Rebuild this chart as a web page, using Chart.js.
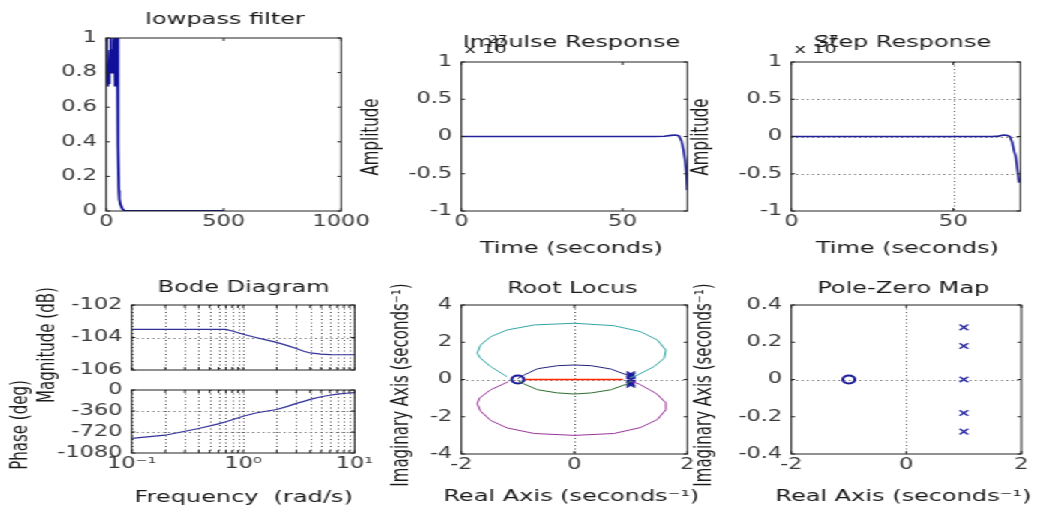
<!DOCTYPE html>
<html>
<head>
<meta charset="utf-8">
<script src="https://cdn.jsdelivr.net/npm/chart.js@4.4.1/dist/chart.umd.min.js"></script>
<style>
  html, body { margin: 0; padding: 0; background: #fff; overflow: hidden; }
  /* the figure is laid out narrow and stretched sideways, like the exported bitmap */
  #fig { position: absolute; left: 0; top: 0; width: 694px; height: 513px;
         transform: scaleX(1.5); transform-origin: 0 0; }
  #fig canvas { position: absolute; }
</style>
</head>
<body>
<div id="fig"></div>
<script>
// ---- data ----
// subplot 1: lowpass filter magnitude
const lpFreq = [0, 2, 4, 6, 8, 10, 13, 16, 19, 21, 24, 27, 30, 33, 35, 37, 39, 42, 45, 47, 49, 50, 52, 54, 56, 60, 70, 80, 500];
const lpGain = [1, 0.75, 0.8, 0.72, 0.82, 0.74, 0.82, 0.93, 1, 0.88, 0.8, 0.85, 0.93, 0.98, 1, 0.85, 0.72, 0.75, 0.9, 1, 1, 0.4, 0.38, 0.12, 0.07, 0.04, 0.01, 0, 0];
const lpFreqTicks = [0, 500, 1000];
const lpGainTicks = [0, 0.2, 0.4, 0.6, 0.8, 1];

// subplot 2 / 3: impulse and step response (x 10^27)
const impTime = [0, 60, 63, 65, 66.5, 67.5, 68.3, 68.9, 69.4, 69.8, 70.05];
const impAmp = [0, 0, 0.004, 0.015, 0.02, 0.008, -0.06, -0.18, -0.32, -0.5, -0.72];
const stepTime = [0, 62, 64, 65.5, 66.5, 67.5, 68.2, 68.8, 69.3, 69.8, 70.3];
const stepAmp = [0, 0, 0.005, 0.02, 0.015, 0, -0.08, -0.2, -0.27, -0.45, -0.62];
const timeTicks = [0, 50];
const ampTicks = [-1, -0.5, 0, 0.5, 1];

// subplot 4: bode diagram
const bodeFreq = [0.1, 0.2, 0.4, 0.6, 0.7, 0.8, 1.0, 1.3, 1.6, 2.0, 2.5, 3.0, 3.5, 4.0, 5.0, 6.0, 7.0, 8.5, 10];
const bodeMag = [-103.5, -103.5, -103.5, -103.5, -103.5, -103.6, -103.8, -104.0, -104.15, -104.3, -104.5, -104.68, -104.85, -104.95, -105.02, -105.05, -105.06, -105.06, -105.06];
const bodePhase = [-830, -775, -660, -580, -545, -510, -450, -395, -365, -335, -280, -230, -195, -160, -115, -90, -72, -56, -45];
const freqTicks = [0.1, 0.2, 0.3, 0.4, 0.5, 0.6, 0.7, 0.8, 0.9, 1, 2, 3, 4, 5, 6, 7, 8, 9, 10];
const magTicks = [-106, -104, -102];
const phaseTicks = [-1080, -720, -360, 0];

// subplot 5: root locus branches
const rlCyanRe = [-1.19, -1.48, -1.66, -1.72, -1.66, -1.48, -1.19, -0.71, 0, 0.7, 1.17, 1.47, 1.62, 1.59, 1.41, 1.12, 1.0];
const rlCyanIm = [0.15, 0.69, 1.14, 1.41, 1.85, 2.3, 2.66, 2.93, 3.02, 2.89, 2.57, 2.12, 1.58, 1.14, 0.69, 0.24, 0.1];
const rlMagRe = [-1.17, -1.48, -1.68, -1.72, -1.66, -1.48, -1.19, -0.71, 0, 0.7, 1.17, 1.47, 1.62, 1.62, 1.45, 1.15, 1.0];
const rlMagIm = [-0.12, -0.55, -1.0, -1.3, -1.7, -2.2, -2.6, -2.9, -3.0, -2.9, -2.58, -2.15, -1.62, -1.25, -0.75, -0.25, -0.1];
const rlBlueRe = [-1.0, -0.89, -0.65, -0.3, 0, 0.3, 0.65, 0.93, 1.0];
const rlBlueIm = [0.05, 0.24, 0.58, 0.74, 0.78, 0.74, 0.56, 0.24, 0.05];
const rlGreenRe = [-1.0, -0.89, -0.65, -0.3, 0, 0.3, 0.65, 0.93, 1.0];
const rlGreenIm = [-0.05, -0.24, -0.55, -0.72, -0.78, -0.72, -0.55, -0.24, -0.05];
const rlRedRe = [-0.87, 0.86];
const rlRedIm = [0, 0];
const rlReTicks = [-2, 0, 2];
const rlImTicks = [-4, -2, 0, 2, 4];

// subplot 6: poles and zeros
const poleRe = [1, 1, 1, 1, 1];
const poleIm = [0.28, 0.18, 0, -0.18, -0.28];
const zeroRe = [-1];
const zeroIm = [0];
const pzImTicks = [-0.4, -0.2, 0, 0.2, 0.4];

// ---- helpers ----
const SX = 1.5;
const FONT = '"DejaVu Sans", sans-serif';
const fig = document.getElementById('fig');

const pts = (xs, ys) => xs.map((x, i) => ({ x, y: ys[i] }));
const fmt = v => String(Math.round(v * 100) / 100);
const decade = { 0.1: '10⁻¹', 1: '10⁰', 10: '10¹' };

const line = (xs, ys, color, width) => ({
  data: pts(xs, ys), borderColor: color, borderWidth: width || 1.2,
  pointRadius: 0, tension: 0, fill: false
});
const marks = (xs, ys, style, color) => ({
  data: pts(xs, ys), showLine: false, pointStyle: style, pointRadius: 4,
  pointBorderColor: color, pointBorderWidth: style === 'circle' ? 2 : 1.4,
  pointBackgroundColor: 'rgba(0,0,0,0)'
});

// box, inward ticks, dotted grid and free text, MATLAB style
const matlabAxes = {
  id: 'matlabAxes',
  beforeDatasetsDraw(chart, args, o) {
    const { ctx, chartArea: a, scales } = chart;
    ctx.save();
    ctx.strokeStyle = '#555';
    ctx.lineWidth = 1;
    ctx.setLineDash([1, 2.5]);
    ctx.beginPath();
    (o.gridX || []).forEach(v => {
      const px = Math.round(scales.x.getPixelForValue(v)) + 0.5;
      ctx.moveTo(px, a.top); ctx.lineTo(px, a.bottom);
    });
    (o.gridY || []).forEach(v => {
      const py = Math.round(scales.y.getPixelForValue(v)) + 0.5;
      ctx.moveTo(a.left, py); ctx.lineTo(a.right, py);
    });
    ctx.stroke();
    ctx.restore();
  },
  afterDatasetsDraw(chart) {
    const { ctx, chartArea: a, scales } = chart;
    ctx.save();
    ctx.strokeStyle = '#222';
    ctx.lineWidth = 1;
    ctx.strokeRect(a.left, a.top, a.right - a.left, a.bottom - a.top);
    ctx.beginPath();
    scales.x.ticks.forEach(t => {
      const px = scales.x.getPixelForValue(t.value);
      ctx.moveTo(px, a.bottom); ctx.lineTo(px, a.bottom - 3);
      ctx.moveTo(px, a.top); ctx.lineTo(px, a.top + 3);
    });
    scales.y.ticks.forEach(t => {
      const py = scales.y.getPixelForValue(t.value);
      ctx.moveTo(a.left, py); ctx.lineTo(a.left + 2.5, py);
      ctx.moveTo(a.right, py); ctx.lineTo(a.right - 2.5, py);
    });
    ctx.stroke();
    ctx.restore();
  },
  afterDraw(chart, args, o) {
    const ctx = chart.ctx;
    (o.texts || []).forEach(t => {
      ctx.save();
      ctx.font = (t.size || 16) + 'px ' + FONT;
      ctx.fillStyle = '#1a1a1a';
      ctx.textAlign = t.align || 'center';
      ctx.textBaseline = 'middle';
      ctx.translate((t.x - o.originX) / SX, t.y - o.originY);
      if (t.rot) ctx.rotate(-Math.PI / 2);
      ctx.fillText(t.text, 0, 0);
      ctx.restore();
    });
  }
};

// one axes; box is the plot area in figure pixels
function makeAxes(cfg) {
  const { box, ml = 130, mr = 60, mt = 60, mb = 70 } = cfg;
  const ox = box.l - ml, oy = box.t - mt;
  const w = Math.ceil((box.r - ox + mr) / SX);
  const h = box.b - oy + mb;
  const canvas = document.createElement('canvas');
  canvas.width = w;
  canvas.height = h;
  canvas.style.left = (ox / SX) + 'px';
  canvas.style.top = oy + 'px';
  fig.appendChild(canvas);

  const tickFont = { family: FONT, size: 15 };
  return new Chart(canvas, {
    type: 'line',
    data: { datasets: cfg.datasets },
    options: {
      responsive: false,
      animation: false,
      events: [],
      layout: { padding: { left: 0, top: mt, right: w - (box.r - ox) / SX, bottom: 0 } },
      plugins: {
        legend: { display: false },
        tooltip: { enabled: false },
        matlabAxes: Object.assign({ originX: ox, originY: oy }, cfg.decor)
      },
      scales: {
        x: {
          type: cfg.xType || 'linear',
          min: cfg.xMin, max: cfg.xMax,
          afterBuildTicks: s => { s.ticks = cfg.xTicks.map(v => ({ value: v })); },
          afterFit: s => { s.height = mb; },
          grid: { display: false, drawTicks: false },
          border: { display: false },
          ticks: {
            display: cfg.xLabels !== false,
            font: tickFont, color: '#3a3a3a', padding: 2,
            maxRotation: 0, autoSkip: false,
            callback: cfg.xFmt || fmt
          }
        },
        y: {
          type: 'linear',
          min: cfg.yMin, max: cfg.yMax,
          afterBuildTicks: s => { s.ticks = cfg.yTicks.map(v => ({ value: v })); },
          afterFit: s => { s.width = ml / SX; },
          grid: { display: false, drawTicks: false },
          border: { display: false },
          ticks: {
            font: tickFont, color: '#3a3a3a', padding: 6,
            autoSkip: false, callback: fmt
          }
        }
      }
    },
    plugins: [matlabAxes]
  });
}

// ---- lowpass filter ----
makeAxes({
  box: { l: 106, r: 341, t: 38, b: 211 }, mt: 38,
  xMin: 0, xMax: 1000, xTicks: lpFreqTicks,
  yMin: 0, yMax: 1, yTicks: lpGainTicks,
  datasets: [line(lpFreq, lpGain, '#10109a', 1.8)],
  decor: { texts: [{ text: 'lowpass filter', x: 225, y: 20 }] }
});

// ---- impulse response ----
makeAxes({
  box: { l: 462, r: 688, t: 62, b: 211 },
  xMin: 0, xMax: 70.1, xTicks: timeTicks,
  yMin: -1, yMax: 1, yTicks: ampTicks,
  datasets: [line(impTime, impAmp, '#22229a', 1.6)],
  decor: {
    texts: [
      { text: 'Impulse Response', x: 572, y: 43 },
      { text: 'x 10', x: 465, y: 50, size: 13, align: 'left' },
      { text: '27', x: 489, y: 40, size: 10, align: 'left' },
      { text: 'Amplitude', x: 373, y: 137, size: 15, rot: true },
      { text: 'Time (seconds)', x: 572, y: 249 }
    ]
  }
});

// ---- step response ----
makeAxes({
  box: { l: 792, r: 1021, t: 62, b: 211 }, mr: 20,
  xMin: 0, xMax: 70.7, xTicks: timeTicks,
  yMin: -1, yMax: 1, yTicks: ampTicks,
  datasets: [line(stepTime, stepAmp, '#22229a', 1.6)],
  decor: {
    gridX: [50], gridY: [-0.5, 0, 0.5],
    texts: [
      { text: 'Step Response', x: 903, y: 43 },
      { text: 'x 10', x: 795, y: 50, size: 13, align: 'left' },
      { text: '27', x: 820, y: 40, size: 10, align: 'left' },
      { text: 'Amplitude', x: 703, y: 137, size: 15, rot: true },
      { text: 'Time (seconds)', x: 908, y: 249 }
    ]
  }
});

// ---- bode diagram: magnitude ----
makeAxes({
  box: { l: 131, r: 354, t: 305, b: 375 }, mt: 40, mb: 10,
  xType: 'logarithmic', xMin: 0.1, xMax: 10, xTicks: freqTicks, xLabels: false,
  yMin: -106, yMax: -102, yTicks: magTicks,
  datasets: [line(bodeFreq, bodeMag, '#33339a', 1.2)],
  decor: {
    gridX: freqTicks, gridY: [-104],
    texts: [{ text: 'Bode Diagram', x: 243, y: 288 }]
  }
});

// ---- bode diagram: phase ----
makeAxes({
  box: { l: 131, r: 354, t: 390, b: 453 }, mt: 135,
  xType: 'logarithmic', xMin: 0.1, xMax: 10, xTicks: freqTicks,
  xFmt: v => decade[v] || '',
  yMin: -1080, yMax: 0, yTicks: phaseTicks,
  datasets: [line(bodeFreq, bodePhase, '#33339a', 1.2)],
  decor: {
    gridX: freqTicks, gridY: [-720, -360],
    texts: [
      { text: 'Magnitude (dB)', x: 48, y: 345, size: 15, rot: true },
      { text: 'Phase (deg)', x: 21, y: 425, size: 15, rot: true },
      { text: 'Frequency  (rad/s)', x: 243, y: 498 }
    ]
  }
});

// ---- root locus ----
makeAxes({
  box: { l: 462, r: 688, t: 305, b: 454 },
  xMin: -2, xMax: 2, xTicks: rlReTicks,
  yMin: -4, yMax: 4, yTicks: rlImTicks,
  datasets: [
    line(rlBlueRe, rlBlueIm, '#22227a', 1),
    line(rlGreenRe, rlGreenIm, '#2d6b2d', 1),
    line(rlCyanRe, rlCyanIm, '#33a5a5', 1),
    line(rlMagRe, rlMagIm, '#993399', 1),
    line(rlRedRe, rlRedIm, '#ff2a00', 1.6),
    marks(poleRe, poleIm, 'crossRot', '#1a1a9a'),
    marks(zeroRe, zeroIm, 'circle', '#1a1a9a')
  ],
  decor: {
    gridX: [0], gridY: [0],
    texts: [
      { text: 'Root Locus', x: 573, y: 289 },
      { text: 'Imaginary Axis (seconds⁻¹)', x: 402, y: 385, size: 15, rot: true },
      { text: 'Real Axis (seconds⁻¹)', x: 572, y: 497 }
    ]
  }
});

// ---- pole-zero map ----
makeAxes({
  box: { l: 791, r: 1021, t: 305, b: 454 }, mr: 20,
  xMin: -2, xMax: 2, xTicks: rlReTicks,
  yMin: -0.4, yMax: 0.4, yTicks: pzImTicks,
  datasets: [
    marks(poleRe, poleIm, 'crossRot', '#2a2aa0'),
    marks(zeroRe, zeroIm, 'circle', '#1a1a9a')
  ],
  decor: {
    gridX: [0], gridY: [0],
    texts: [
      { text: 'Pole-Zero Map', x: 903, y: 289 },
      { text: 'Imaginary Axis (seconds⁻¹)', x: 705, y: 385, size: 15, rot: true },
      { text: 'Real Axis (seconds⁻¹)', x: 903, y: 497 }
    ]
  }
});
</script>
</body>
</html>
